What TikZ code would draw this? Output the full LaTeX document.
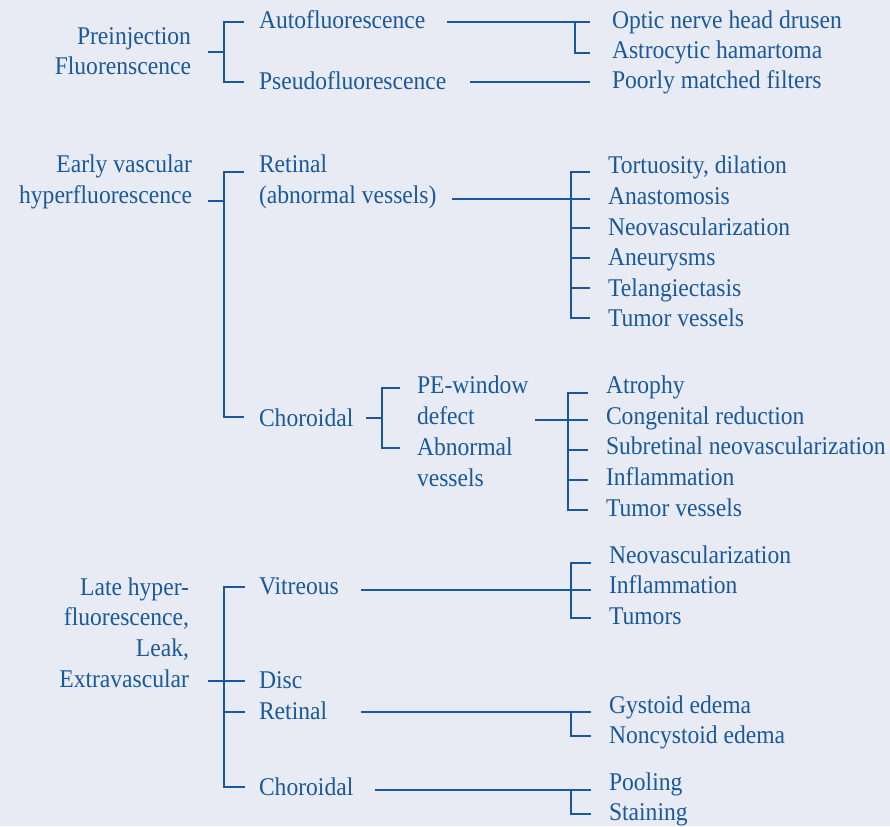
\documentclass[tikz,border=0pt]{standalone}
\usepackage{fontspec}
\setmainfont{Liberation Serif}[FakeStretch=0.925]
\definecolor{ink}{HTML}{19599B}
\definecolor{bg}{HTML}{E8EBF3}
\begin{document}
\begin{tikzpicture}[x=1pt,y=-1pt,
  lbl/.style={text=ink,inner sep=0pt,outer sep=0pt,anchor=base west,font=\fontsize{25.5}{30}\selectfont},
  rlbl/.style={lbl,anchor=base east},
  conn/.style={draw=ink,line width=2.1pt,line join=miter}]
\fill[bg] (0,0) rectangle (890,826);
\useasboundingbox (0,0) rectangle (890,826);

% ---------------- Top section ----------------
\node[rlbl] (pre1) at (191,45) {Preinjection};
\node[rlbl] (pre2) at (191,75) {Fluorenscence};
\node[lbl] (auto) at (259,29) {Autofluorescence};
\node[lbl] (pseudo) at (259,90) {Pseudofluorescence};
\node[lbl] (opt) at (612,29) {Optic nerve head drusen};
\node[lbl] (astro) at (612,59) {Astrocytic hamartoma};
\node[lbl] (poor) at (612,89) {Poorly matched filters};

\coordinate (tA) at (208,52); \coordinate (tB) at (224,52);
\coordinate (tT) at (244,22); \coordinate (tBt) at (244,82);
\draw[conn] (tA) -- (tB);
\draw[conn] (tT) -- (224,22) -- (224,82) -- (tBt);
\coordinate (aS) at (447,22); \coordinate (aE) at (590,22);
\coordinate (aK) at (590,53);
\draw[conn] (aS) -- (aE);
\draw[conn] (575,22) -- (575,53) -- (aK);
\coordinate (pS) at (470,82); \coordinate (pE) at (590,82);
\draw[conn] (pS) -- (pE);

% ---------------- Middle section ----------------
\node[rlbl] (ev1) at (192,173) {Early vascular};
\node[rlbl] (ev2) at (192,204) {hyperfluorescence};
\node[lbl] (ret1) at (259,173) {Retinal};
\node[lbl] (ret2) at (259,204) {(abnormal vessels)};
\node[lbl] (m1) at (608,174) {Tortuosity, dilation};
\node[lbl] (m2) at (608,204.5) {Anastomosis};
\node[lbl] (m3) at (608,235) {Neovascularization};
\node[lbl] (m4) at (608,265.5) {Aneurysms};
\node[lbl] (m5) at (608,296) {Telangiectasis};
\node[lbl] (m6) at (608,326.5) {Tumor vessels};
\node[lbl] (chor) at (259,426) {Choroidal};
\node[lbl] (pe1) at (417,393) {PE-window};
\node[lbl] (pe2) at (417,424) {defect};
\node[lbl] (ab1) at (417,455) {Abnormal};
\node[lbl] (ab2) at (417,486) {vessels};
\node[lbl] (c1) at (606,393) {Atrophy};
\node[lbl] (c2) at (606,424) {Congenital reduction};
\node[lbl] (c3) at (606,454) {Subretinal neovascularization};
\node[lbl] (c4) at (606,485) {Inflammation};
\node[lbl] (c5) at (606,516) {Tumor vessels};

\coordinate (eA) at (208,201); \coordinate (eB) at (224,201);
\draw[conn] (eA) -- (eB);
\coordinate (eT) at (244,172); \coordinate (eBt) at (244,417);
\draw[conn] (eT) -- (224,172) -- (224,417) -- (eBt);
\coordinate (rS) at (452,199); \coordinate (rE) at (590,199);
\draw[conn] (rS) -- (rE);
\draw[conn] (590,172) -- (571,172) -- (571,318) -- (590,318);
\foreach \yy in {228,258,288} \draw[conn] (571,\yy) -- (590,\yy);
\coordinate (chA) at (366,418); \coordinate (chB) at (382,418);
\draw[conn] (chA) -- (chB);
\draw[conn] (400,388) -- (382,388) -- (382,448) -- (400,448);
\coordinate (peS) at (535,420); \coordinate (peE) at (588,420);
\draw[conn] (peS) -- (peE);
\draw[conn] (588,393) -- (568,393) -- (568,510) -- (588,510);
\foreach \yy in {450,480} \draw[conn] (568,\yy) -- (588,\yy);

% ---------------- Bottom section ----------------
\node[rlbl] (l1) at (189,595) {Late hyper-};
\node[rlbl] (l2) at (189,625) {fluorescence,};
\node[rlbl] (l3) at (189,656) {Leak,};
\node[rlbl] (l4) at (189,687) {Extravascular};
\node[lbl] (vit) at (259,594) {Vitreous};
\node[lbl] (disc) at (259,688) {Disc};
\node[lbl] (bret) at (259,719) {Retinal};
\node[lbl] (bchor) at (259,795) {Choroidal};
\node[lbl] (v1) at (609,563) {Neovascularization};
\node[lbl] (v2) at (609,593) {Inflammation};
\node[lbl] (v3) at (609,624) {Tumors};
\node[lbl] (g1) at (609,713) {Gystoid edema};
\node[lbl] (g2) at (609,743) {Noncystoid edema};
\node[lbl] (s1) at (609,790) {Pooling};
\node[lbl] (s2) at (609,820) {Staining};

\coordinate (bA) at (208,681); \coordinate (bB) at (224,681);
\draw[conn] (bA) -- (bB);
\draw[conn] (245,587) -- (224,587) -- (224,787) -- (245,787);
\draw[conn] (224,681) -- (245,681);
\draw[conn] (224,712) -- (245,712);
\coordinate (vS) at (361,590); \coordinate (vE) at (591,590);
\draw[conn] (vS) -- (vE);
\draw[conn] (591,563) -- (571,563) -- (571,618) -- (591,618);
\coordinate (brS) at (361,712); \coordinate (brE) at (591,712);
\draw[conn] (brS) -- (brE);
\draw[conn] (571,712) -- (571,736) -- (591,736);
\coordinate (bcS) at (375,790); \coordinate (bcE) at (591,790);
\draw[conn] (bcS) -- (bcE);
\draw[conn] (571,790) -- (571,814) -- (591,814);
\end{tikzpicture}
\end{document}
